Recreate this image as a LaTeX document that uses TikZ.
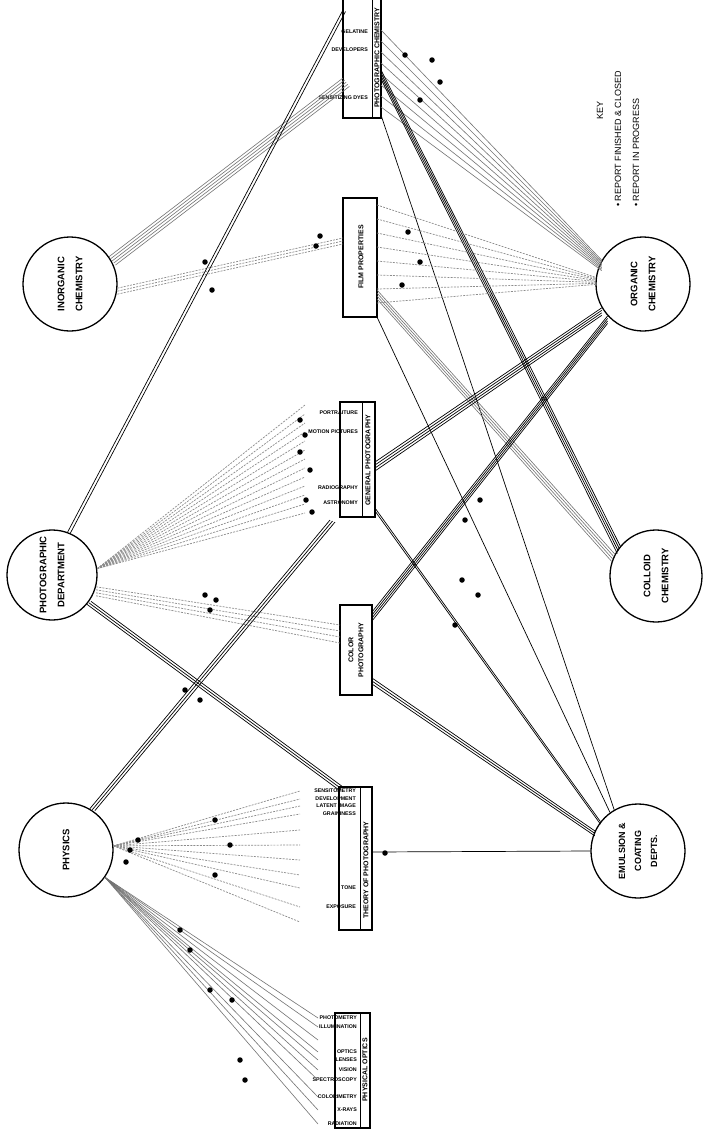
\documentclass[tikz,border=0pt]{standalone}
\usepackage{fontspec}
\setmainfont{Liberation Sans}
\usetikzlibrary{calc}
\begin{document}
\begin{tikzpicture}[x=1pt,y=-1pt,
 circ/.style={circle, draw, line width=1.3pt, minimum size=94pt, inner sep=0pt},
 clab/.style={rotate=90, align=center, inner sep=0pt, font=\fontsize{9.5}{18}\selectfont\bfseries},
 tbox/.style={draw, line width=1.2pt},
 sub/.style={font=\fontsize{5.3}{6}\selectfont\bfseries, anchor=east, inner sep=0pt},
 blab/.style={rotate=90, inner sep=0pt, align=center, font=\fontsize{7}{10}\selectfont\bfseries},
 sol/.style={line width=0.7pt, black},
 gry/.style={line width=0.6pt, black!55},
 dsh/.style={line width=0.7pt, black!45, dash pattern=on 2pt off 1.2pt},
 dot/.style={circle, fill=black, inner sep=0pt, minimum size=5.5pt},
 keyt/.style={rotate=90, inner sep=0pt, font=\fontsize{9}{10}\selectfont},
]
\fill[white] (0,0) rectangle (704,1141);
\useasboundingbox (0,0) rectangle (704,1141);

% ---------- circles ----------
\node[circ] (inorg) at (70,284) {};
\node[clab] at (inorg) {INORGANIC\\CHEMISTRY};
\node[circ, minimum size=90pt] (photo) at (52,575) {};
\node[clab] at (photo) {PHOTOGRAPHIC\\DEPARTMENT};
\node[circ] (phys) at (66,850) {};
\node[clab] at (phys) {PHYSICS};
\node[circ] (organic) at (643,284) {};
\node[clab] at (organic) {ORGANIC\\CHEMISTRY};
\node[circ, minimum size=92pt] (colloid) at (656,576) {};
\node[clab] at (colloid) {COLLOID\\CHEMISTRY};
\node[circ] (emul) at (638,851) {};
\node[clab, font=\fontsize{9}{16}\selectfont\bfseries] at (emul) {EMULSION \&\\COATING\\DEPTS.};

% ---------- boxes ----------
\draw[tbox] (343,-3) rectangle (381,118);
\draw[line width=0.6pt] (372,-3) -- (372,118);
\node[blab] (topl) at (377,58) {PHOTOGRAPHIC CHEMISTRY};
\node[sub] at (368,32) {GELATINE};
\node[sub] at (368,50) {DEVELOPERS};
\node[sub] at (368,98) {SENSITIZING DYES};

\draw[tbox] (343,198) rectangle (377,317);
\node[blab] (filml) at (361,257) {FILM PROPERTIES};

\draw[tbox] (340,402) rectangle (375,517);
\draw[line width=0.6pt] (362,402) -- (362,517);
\node[blab] (genl) at (368,460) {GENERAL PHOTOGRAPHY};
\node[sub] at (358,413) {PORTRAITURE};
\node[sub] at (358,432) {MOTION PICTURES};
\node[sub] at (358,488) {RADIOGRAPHY};
\node[sub] at (358,503) {ASTRONOMY};

\draw[tbox] (340,605) rectangle (372,695);
\node[blab] (coll) at (356,650) {COLOR\\PHOTOGRAPHY};

\draw[tbox] (339,787) rectangle (372,930);
\draw[line width=0.6pt] (360,787) -- (360,930);
\node[blab] (theol) at (366,870) {THEORY OF PHOTOGRAPHY};
\node[sub] at (356,791) {SENSITOMETRY};
\node[sub] at (356,799) {DEVELOPMENT};
\node[sub] at (356,806) {LATENT IMAGE};
\node[sub] at (356,814) {GRAININESS};
\node[sub] at (356,888) {TONE};
\node[sub] at (356,907) {EXPOSURE};

\draw[tbox] (335,1013) rectangle (370,1128);
\draw[line width=0.6pt] (360,1013) -- (360,1128);
\node[blab] (optl) at (365,1070) {PHYSICAL OPTICS};
\node[sub] at (357,1018) {PHOTOMETRY};
\node[sub] at (357,1027) {ILLUMINATION};
\node[sub] at (357,1052) {OPTICS};
\node[sub] at (357,1060) {LENSES};
\node[sub] at (357,1070) {VISION};
\node[sub] at (357,1080) {SPECTROSCOPY};
\node[sub] at (357,1097) {COLORIMETRY};
\node[sub] at (357,1110) {X-RAYS};
\node[sub] at (357,1124) {RADIATION};

% ---------- attachment coordinates ----------
\coordinate (tA) at (343,78);
\coordinate (tB) at (343,10);
\coordinate (fA) at (343,238);
\coordinate (gB) at (330,520);
\coordinate (cA) at (340,625);
\coordinate (thA) at (339,790);
\coordinate (thE) at (372,852);
\coordinate (tR) at (381,30);
\coordinate (tRc) at (381,70);
\coordinate (tRe) at (381,115);
\coordinate (fR) at (377,205);
\coordinate (fRc) at (377,290);
\coordinate (fRe) at (377,317);
\coordinate (gR) at (375,462);
\coordinate (gRe) at (375,508);
\coordinate (cR) at (372,612);
\coordinate (cRe) at (372,678);

% ---------- left connectors ----------
\foreach \k in {0,...,4} \draw[gry] ([xshift=\k*1.6pt,yshift=-\k*2.1pt]inorg.35) -- ([xshift=\k*1.6pt,yshift=-\k*2.1pt]tA);
\foreach \k in {0,...,2} \draw[dsh] ([yshift=-\k*3pt]inorg.-5) -- ([yshift=-\k*3pt]fA);
\foreach \k in {0,...,1} \draw[sol] ([xshift=\k*2.5pt,yshift=-\k*1.5pt]photo.70) -- ([xshift=\k*2.5pt,yshift=-\k*1.5pt]tB);
\foreach \y in {405,414,...,515} \draw[dsh] (photo.8) -- (305,\y);
\foreach \k in {0,...,3} \draw[dsh] ([yshift=-\k*3pt]photo.-15) -- ([yshift=-\k*6pt]cA);
\foreach \k in {0,...,2} \draw[sol] ([xshift=\k*2pt,yshift=\k*1.5pt]photo.-40) -- ([xshift=\k*2pt,yshift=\k*1.5pt]thA);
\foreach \k in {0,...,2} \draw[sol] ([xshift=\k*2.5pt,yshift=-\k*1pt]phys.60) -- ([xshift=\k*2.5pt,yshift=-\k*1pt]gB);
\foreach \y in {791,799,806,814,830,845,860,875,888,907,922} \draw[dsh] (phys.5) -- (300,\y);
\foreach \y in {1018,1027,1040,1052,1060,1070,1080,1097,1110,1124} \draw[gry] (phys.-35) -- (318,\y);

% ---------- right connectors ----------
\foreach \k in {0,...,7} \draw[gry] ([yshift=-\k*11pt]tR) -- ([yshift=-\k*1.5pt]organic.150);
\foreach \k in {0,...,3} \draw[sol] ([yshift=-\k*3pt]tRc) -- ([xshift=-\k*1pt,yshift=-\k*2.5pt]colloid.140);
\draw[sol] (tRe) -- (emul.120);
\foreach \k in {0,...,7} \draw[dsh] ([yshift=-\k*14pt]fR) -- ([yshift=-\k*1pt]organic.172);
\foreach \k in {0,...,3} \draw[gry] ([yshift=-\k*3pt]fRc) -- ([xshift=-\k*1pt,yshift=-\k*2.5pt]colloid.152);
\draw[sol] (fRe) -- (emul.126);
\foreach \k in {0,...,3} \draw[sol] ([yshift=-\k*3pt]gR) -- ([yshift=-\k*2.5pt]organic.-150);
\foreach \k in {0,...,1} \draw[sol] ([yshift=-\k*3pt]gRe) -- ([yshift=-\k*2.5pt]emul.142);
\foreach \k in {0,...,3} \draw[sol] ([yshift=-\k*3pt]cR) -- ([yshift=-\k*2.5pt]organic.-138);
\foreach \k in {0,...,2} \draw[sol] ([yshift=-\k*3pt]cRe) -- ([yshift=-\k*2.5pt]emul.155);
\draw[sol] (thE) -- (emul.west);

% ---------- dots ----------
\foreach \p in {(205,262),(212,290),(320,236),(316,246),(205,595),(210,610),(216,600),(185,690),(200,700),(385,853),(405,55),(432,60),(420,100),(440,82),(408,232),(420,262),(402,285),(300,420),(305,435),(300,452),(310,470),(306,500),(312,512),(130,850),(138,840),(126,862),(215,820),(230,845),(215,875),(180,930),(190,950),(210,990),(232,1000),(240,1060),(245,1080),(465,520),(480,500),(462,580),(478,595),(455,625)}
  \node[dot] at \p {};

% ---------- key ----------
\node[keyt] (keyh) at (600,110) {KEY};
\node[keyt, anchor=west] (k1) at (618,207) {\textbullet\ REPORT FINISHED \& CLOSED};
\node[keyt, anchor=west] (k2) at (636,207) {\textbullet\ REPORT IN PROGRESS};
\end{tikzpicture}
\end{document}
